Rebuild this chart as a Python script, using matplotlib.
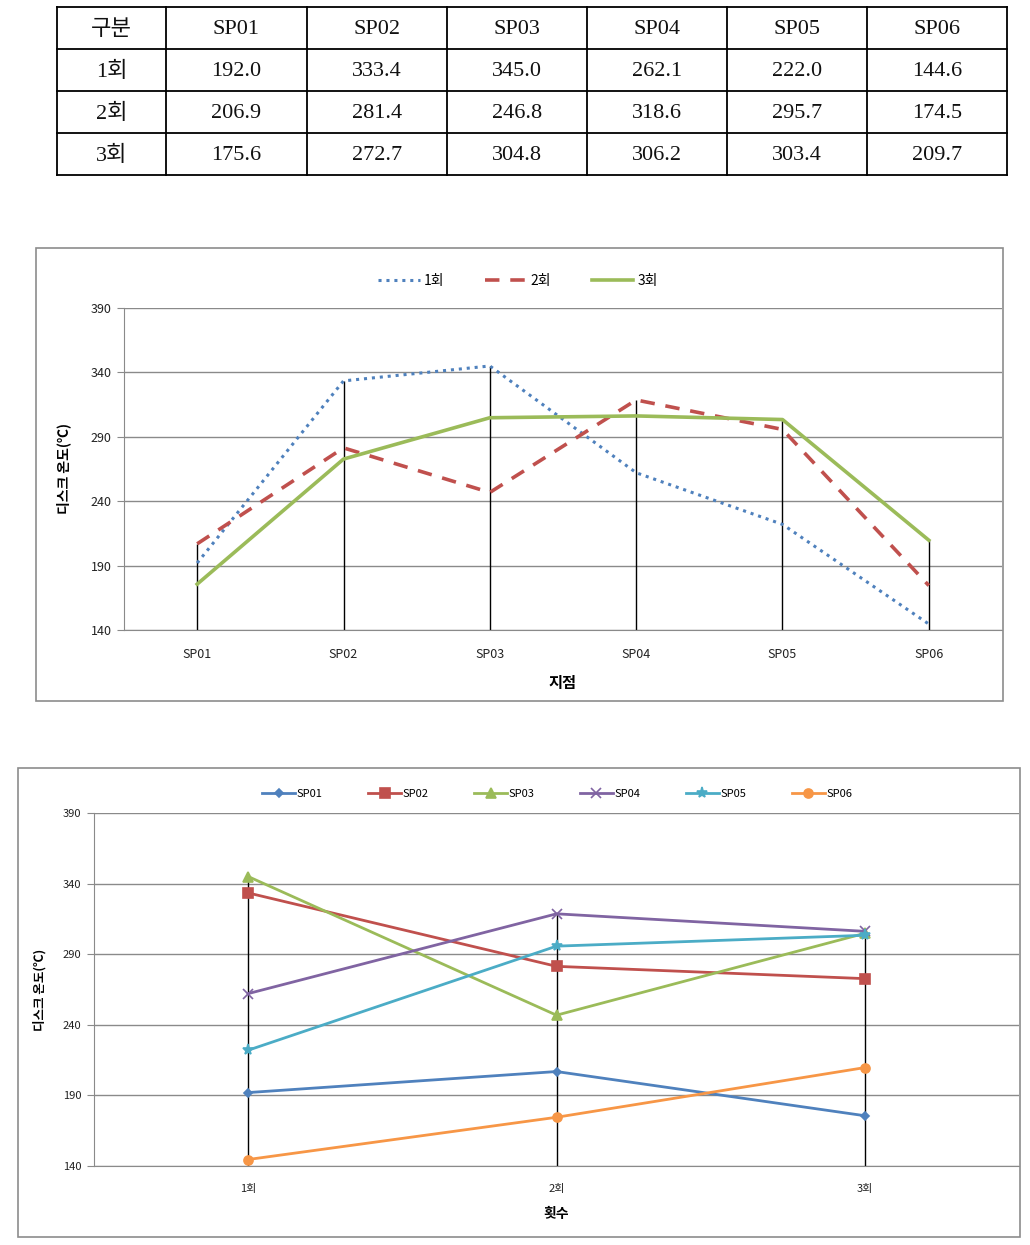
import matplotlib
matplotlib.use("Agg")
import matplotlib.pyplot as plt
from matplotlib.patches import Rectangle

plt.rcParams['font.family'] = ['Noto Sans CJK KR', 'DejaVu Sans']

# ---- data ----
points = ["SP01", "SP02", "SP03", "SP04", "SP05", "SP06"]
runs = ["1회", "2회", "3회"]
run1 = [192.0, 333.4, 345.0, 262.1, 222.0, 144.6]
run2 = [206.9, 281.4, 246.8, 318.6, 295.7, 174.5]
run3 = [175.6, 272.7, 304.8, 306.2, 303.4, 209.7]
header_label = "구분"
y_ticks = [140, 190, 240, 290, 340, 390]
y_label = "디스크 온도(℃)"
x_label1 = "지점"
x_label2 = "횟수"

series_by_run = [run1, run2, run3]

W, H = 1030, 1245
fig = plt.figure(figsize=(W / 100, H / 100), dpi=100)


def rect(x0, y0, x1, y1):
    return [x0 / W, 1 - y1 / H, (x1 - x0) / W, (y1 - y0) / H]


# ---- table ----
tax = fig.add_axes(rect(57, 7, 1007, 175))
tax.set_xlim(0, 950)
tax.set_ylim(168, 0)
tax.axis("off")
col_edges = [0, 109, 250, 390, 530, 670, 810, 950]
row_h = 42
rows = [[header_label] + points] + [[r] + [f"{v:.1f}" for v in s] for r, s in zip(runs, series_by_run)]
tfont = ['Liberation Serif', 'Noto Sans CJK KR']
for i, row in enumerate(rows):
    for j, txt in enumerate(row):
        cx = (col_edges[j] + col_edges[j + 1]) / 2
        cy = i * row_h + row_h / 2 + 2
        tax.text(cx, cy, txt, ha="center", va="center", fontsize=16,
                 family=tfont, color="#111111")
for x in col_edges:
    tax.plot([x, x], [0, 168], color="black", lw=1.3, clip_on=False)
for k in range(5):
    tax.plot([0, 950], [k * row_h, k * row_h], color="black", lw=1.3, clip_on=False)

# ---- frames ----
fig.patches.append(Rectangle((36 / W, 1 - 701 / H), (1003 - 36) / W, (701 - 248) / H,
                             transform=fig.transFigure, fill=False, ec="#8c8c8c", lw=1.2))
fig.patches.append(Rectangle((18 / W, 1 - 1237 / H), (1020 - 18) / W, (1237 - 768) / H,
                             transform=fig.transFigure, fill=False, ec="#8c8c8c", lw=1.2))

grid_c = "#8a8a8a"


def style_axis(ax, fs):
    ax.set_ylim(140, 390)
    ax.set_yticks(y_ticks)
    ax.set_yticklabels([str(t) for t in y_ticks], fontsize=fs, color="#222222")
    ax.yaxis.grid(True, color=grid_c, lw=1)
    ax.set_axisbelow(True)
    for s in ["top", "right"]:
        ax.spines[s].set_visible(False)
    ax.spines["left"].set_color(grid_c)
    ax.spines["bottom"].set_color(grid_c)
    ax.tick_params(axis="y", length=5, color=grid_c, pad=4)
    ax.tick_params(axis="x", length=0, pad=13)


# ---- chart 1 ----
ax1 = fig.add_axes(rect(124, 308, 1002, 630))
xs = list(range(len(points)))
ax1.set_xlim(-0.5, len(points) - 0.5)
style_axis(ax1, 9)
ax1.set_xticks(xs)
ax1.set_xticklabels(points, fontsize=9, color="#222222")
tops = [max(a, b, c) for a, b, c in zip(run1, run2, run3)]
ax1.vlines(xs, 140, tops, color="black", lw=1, zorder=2)
l1, = ax1.plot(xs, run1, color="#4F81BD", lw=2.2, ls=(0, (1, 1.6)), zorder=3, label=runs[0])
l2, = ax1.plot(xs, run2, color="#C0504D", lw=2.6, ls=(0, (4, 3)), zorder=3, label=runs[1])
l3, = ax1.plot(xs, run3, color="#9BBB59", lw=2.6, zorder=3, label=runs[2])
ax1.set_xlabel(x_label1, fontsize=11, fontweight="bold", labelpad=10)
ax1.set_ylabel(y_label, fontsize=10, fontweight="bold", labelpad=14)
fig.legend(handles=[l1, l2, l3], loc="center", bbox_to_anchor=(518 / W, 1 - 281 / H),
           ncol=3, frameon=False, fontsize=10, handlelength=3.0, columnspacing=2.9,
           handletextpad=0.3)

# ---- chart 2 ----
ax2 = fig.add_axes(rect(94, 813, 1019, 1166))
xr = list(range(len(runs)))
ax2.set_xlim(-0.5, len(runs) - 0.5)
style_axis(ax2, 8)
ax2.set_xticks(xr)
ax2.set_xticklabels(runs, fontsize=8, color="#222222")
colors = ["#4F81BD", "#C0504D", "#9BBB59", "#8064A2", "#4BACC6", "#F79646"]
markers = ["D", "s", "^", "x", "*", "o"]
msizes = [4.5, 6.5, 7, 7, 8, 6.5]
tops2 = [max(s) for s in series_by_run]
ax2.vlines(xr, 140, tops2, color="black", lw=1, zorder=2)
handles = []
for j, name in enumerate(points):
    vals = [s[j] for s in series_by_run]
    h, = ax2.plot(xr, vals, color=colors[j], lw=2, marker=markers[j], ms=msizes[j],
                  mew=1.2, zorder=3, label=name)
    handles.append(h)
ax2.set_xlabel(x_label2, fontsize=10, fontweight="bold", labelpad=9)
ax2.set_ylabel(y_label, fontsize=9, fontweight="bold", labelpad=12)
fig.legend(handles=handles, loc="center", bbox_to_anchor=(557 / W, 1 - 794 / H),
           ncol=6, frameon=False, fontsize=8, handlelength=3, columnspacing=4.1,
           handletextpad=0.1)

fig.savefig("out.png", dpi=100)
